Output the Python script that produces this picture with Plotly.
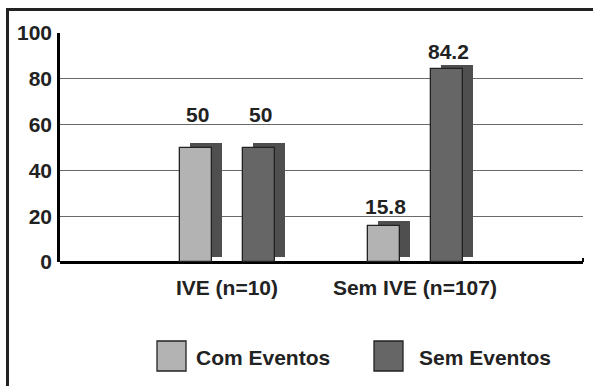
import plotly.graph_objects as go

# Data
groups = ["IVE (n=10)", "Sem IVE (n=107)"]
com_eventos = [50, 15.8]
sem_eventos = [50, 84.2]
value_text_com = ["50", "15.8"]
value_text_sem = ["50", "84.2"]
y_ticks = [0, 20, 40, 60, 80, 100]

# Layout geometry (pixels)
W, H = 593, 386
L, R, T, B = 60, 10, 33, 124
PW, PH = W - L - R, H - T - B

FONT = "Liberation Sans, Arial, sans-serif"
FS = 21
INK = "#222222"
COM_COLOR = "#b3b3b3"
SEM_COLOR = "#666666"
SHADOW = "#4f4f4f"

x = [0, 1]
BAR_W = 0.17
COM_OFF = -0.25
SEM_OFF = 0.085
SH_DX = 0.053   # drop-shadow shift to the right (axis units)
SH_DY = 2       # drop-shadow lift (value units)

fig = go.Figure()

# drop shadows behind the bars
for off, vals in ((COM_OFF, com_eventos), (SEM_OFF, sem_eventos)):
    fig.add_trace(go.Bar(
        x=x, y=vals, base=SH_DY, offset=off + SH_DX, width=BAR_W,
        marker=dict(color=SHADOW, line=dict(width=0)),
        showlegend=False, hoverinfo="skip"))

fig.add_trace(go.Bar(
    x=x, y=com_eventos, offset=COM_OFF, width=BAR_W, name="Com Eventos",
    marker=dict(color=COM_COLOR, line=dict(color=INK, width=1.3)),
    showlegend=False))
fig.add_trace(go.Bar(
    x=x, y=sem_eventos, offset=SEM_OFF, width=BAR_W, name="Sem Eventos",
    marker=dict(color=SEM_COLOR, line=dict(color=INK, width=1.3)),
    showlegend=False))

# value labels above the bars
label_lift_com = [33, 19]
label_lift_sem = [33, 18]
for i in range(len(groups)):
    for off, vals, txt, lift in ((COM_OFF, com_eventos, value_text_com, label_lift_com),
                                 (SEM_OFF, sem_eventos, value_text_sem, label_lift_sem)):
        fig.add_annotation(
            x=x[i] + off + BAR_W / 2, y=vals[i], text=txt[i],
            showarrow=False, xanchor="center", yanchor="middle",
            xshift=2, yshift=lift[i],
            font=dict(family=FONT, size=FS, color=INK, weight="bold"))

def px_x(p):
    return (p - L) / PW

def px_y(p):
    return (T + PH - p) / PH

shapes = []
# outer frame (runs off the right and bottom edges)
shapes.append(dict(type="rect", xref="paper", yref="paper",
                   x0=px_x(7.5), x1=px_x(W + 20), y0=px_y(H + 20), y1=px_y(9.5),
                   line=dict(color=INK, width=3), layer="below"))
# small end tick on the category axis
shapes.append(dict(type="line", xref="paper", yref="paper",
                   x0=1, x1=1, y0=0, y1=px_y(T + PH - 4),
                   line=dict(color="black", width=2)))

# legend swatches and labels
legend_items = [("Com Eventos", COM_COLOR, 157), ("Sem Eventos", SEM_COLOR, 374)]
text_gap = [8, 14]
for (name, col, x0), gap in zip(legend_items, text_gap):
    shapes.append(dict(type="rect", xref="paper", yref="paper",
                       x0=px_x(x0), x1=px_x(x0 + 29), y0=px_y(371), y1=px_y(341),
                       fillcolor=col, line=dict(color=INK, width=1.3)))
    fig.add_annotation(xref="paper", yref="paper", x=px_x(x0 + 29 + gap), y=px_y(357),
                       text=name, showarrow=False, xanchor="left", yanchor="middle",
                       font=dict(family=FONT, size=FS, color=INK, weight="bold"))

fig.update_layout(
    width=W, height=H,
    margin=dict(l=L, r=R, t=T, b=B),
    paper_bgcolor="white", plot_bgcolor="white",
    barmode="overlay", bargap=0,
    shapes=shapes,
    font=dict(family=FONT, size=FS, color=INK),
    xaxis=dict(range=[-0.888, 1.894], tickvals=x, ticktext=groups,
               showgrid=False, zeroline=False, showline=False,
               ticks="", ticklabelstandoff=11,
               tickfont=dict(family=FONT, size=FS, color=INK, weight="bold"),
               fixedrange=True),
    yaxis=dict(range=[0, 100], tickvals=y_ticks,
               showgrid=True, gridcolor="#6a6a6a", gridwidth=1.3,
               zeroline=True, zerolinecolor="black", zerolinewidth=2.5,
               showline=True, linecolor="black", linewidth=2.5,
               ticks="", ticklabelstandoff=1,
               tickfont=dict(family=FONT, size=FS, color=INK, weight="bold"),
               fixedrange=True),
    showlegend=False,
)

fig.write_html("out.html")
